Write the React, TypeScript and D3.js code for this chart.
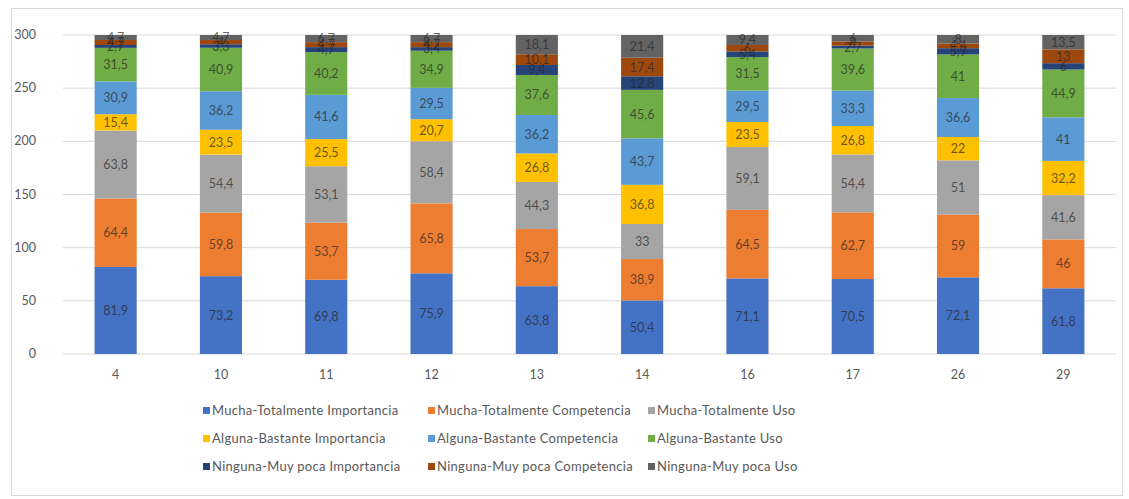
import React, { useRef, useEffect } from 'react';
import * as d3 from 'd3';

const categories = ['4', '10', '11', '12', '13', '14', '16', '17', '26', '29'];

const seriesNames = [
  'Mucha-Totalmente Importancia',
  'Mucha-Totalmente Competencia',
  'Mucha-Totalmente Uso',
  'Alguna-Bastante Importancia',
  'Alguna-Bastante Competencia',
  'Alguna-Bastante Uso',
  'Ninguna-Muy poca Importancia',
  'Ninguna-Muy poca Competencia',
  'Ninguna-Muy poca Uso',
];

const muchaImportancia = [81.9, 73.2, 69.8, 75.9, 63.8, 50.4, 71.1, 70.5, 72.1, 61.8];
const muchaCompetencia = [64.4, 59.8, 53.7, 65.8, 53.7, 38.9, 64.5, 62.7, 59, 46];
const muchaUso = [63.8, 54.4, 53.1, 58.4, 44.3, 33, 59.1, 54.4, 51, 41.6];
const algunaImportancia = [15.4, 23.5, 25.5, 20.7, 26.8, 36.8, 23.5, 26.8, 22, 32.2];
const algunaCompetencia = [30.9, 36.2, 41.6, 29.5, 36.2, 43.7, 29.5, 33.3, 36.6, 41];
const algunaUso = [31.5, 40.9, 40.2, 34.9, 37.6, 45.6, 31.5, 39.6, 41, 44.9];
const ningunaImportancia = [2.7, 3.3, 4.7, 3.4, 9.4, 12.8, 5.4, 2.7, 5.9, 6];
const ningunaCompetencia = [4.7, 4, 4.7, 4.7, 10.1, 17.4, 6, 4, 4.4, 13];
const ningunaUso = [4.7, 4.7, 6.7, 6.7, 18.1, 21.4, 9.4, 6, 8, 13.5];

const seriesValues = [
  muchaImportancia, muchaCompetencia, muchaUso,
  algunaImportancia, algunaCompetencia, algunaUso,
  ningunaImportancia, ningunaCompetencia, ningunaUso,
];

const colors = ['#4472C4', '#ED7D31', '#A5A5A5', '#FFC000', '#5B9BD5', '#70AD47', '#264478', '#9E480E', '#636363'];

const yTicks = [0, 50, 100, 150, 200, 250, 300];

const font = 'Lato, "Open Sans", sans-serif';

const App = () => {
  const svgRef = useRef<SVGSVGElement>(null);

  useEffect(() => {
    const width = 1129;
    const height = 499;
    const svg = d3.select(svgRef.current).attr('width', width).attr('height', height);
    svg.selectAll('*').remove();

    // marco del gráfico
    svg.append('rect')
      .attr('x', 11.5).attr('y', 8.5)
      .attr('width', 1111).attr('height', 487)
      .attr('fill', '#fff').attr('stroke', '#d9d9d9');

    const left = 63;
    const right = 1116;
    const top = 35;
    const bottom = 354;

    const x = d3.scaleBand().domain(categories).range([left, right]).paddingInner(0.6).paddingOuter(0.3);
    const y = d3.scaleLinear().domain([0, 300]).range([bottom, top]);

    // gridlines
    svg.append('g').selectAll('line')
      .data(yTicks)
      .enter().append('line')
      .attr('x1', left).attr('x2', right)
      .attr('y1', d => y(d)).attr('y2', d => y(d))
      .attr('stroke', '#d9d9d9').attr('stroke-width', 1);

    // y labels
    svg.append('g').selectAll('text')
      .data(yTicks)
      .enter().append('text')
      .attr('x', 36).attr('y', d => y(d) + 4)
      .attr('text-anchor', 'end')
      .attr('font-family', font).attr('font-size', 12.5).attr('fill', '#595959')
      .text(d => d);

    // x labels
    svg.append('g').selectAll('text')
      .data(categories)
      .enter().append('text')
      .attr('x', d => x(d)! + x.bandwidth() / 2).attr('y', 379)
      .attr('text-anchor', 'middle')
      .attr('font-family', font).attr('font-size', 12.5).attr('fill', '#595959')
      .text(d => d);

    const rows = categories.map((c, i) => {
      const row: any = { cat: c };
      seriesNames.forEach((s, j) => { row[s] = seriesValues[j][i]; });
      return row;
    });

    const stacked = d3.stack<any>().keys(seriesNames)(rows);

    const layers = svg.append('g').selectAll('g')
      .data(stacked)
      .enter().append('g')
      .attr('fill', (d, i) => colors[i]);

    layers.selectAll('rect')
      .data(d => d)
      .enter().append('rect')
      .attr('x', d => x(d.data.cat)!)
      .attr('width', x.bandwidth())
      .attr('y', d => y(d[1]))
      .attr('height', d => y(d[0]) - y(d[1]));

    // etiquetas de datos
    stacked.forEach((layer) => {
      svg.append('g').selectAll('text')
        .data(layer)
        .enter().append('text')
        .attr('x', d => x(d.data.cat)! + x.bandwidth() / 2)
        .attr('y', d => (y(d[0]) + y(d[1])) / 2 + 4.5)
        .attr('text-anchor', 'middle')
        .attr('font-family', font).attr('font-size', 12.5)
        .attr('fill', '#262626').attr('fill-opacity', 0.7)
        .text(d => String(+(d[1] - d[0]).toFixed(1)).replace('.', ','));
    });

    // leyenda
    const legendCols = [203, 428, 648];
    const legendRows = [415, 443, 471];
    const legend = svg.append('g').selectAll('g')
      .data(seriesNames)
      .enter().append('g')
      .attr('transform', (d, i) => `translate(${legendCols[i % 3]}, ${legendRows[Math.floor(i / 3)]})`);

    legend.append('rect')
      .attr('x', 0).attr('y', -8)
      .attr('width', 7).attr('height', 7)
      .attr('fill', (d, i) => colors[i]);

    legend.append('text')
      .attr('x', 9).attr('y', 0)
      .attr('font-family', font).attr('font-size', 13).attr('letter-spacing', 0.3)
      .attr('fill', '#595959')
      .text(d => d);
  }, []);

  return (
    <svg ref={svgRef} style={{ position: 'absolute', left: 0, top: 0 }}></svg>
  );
};

export default App;
